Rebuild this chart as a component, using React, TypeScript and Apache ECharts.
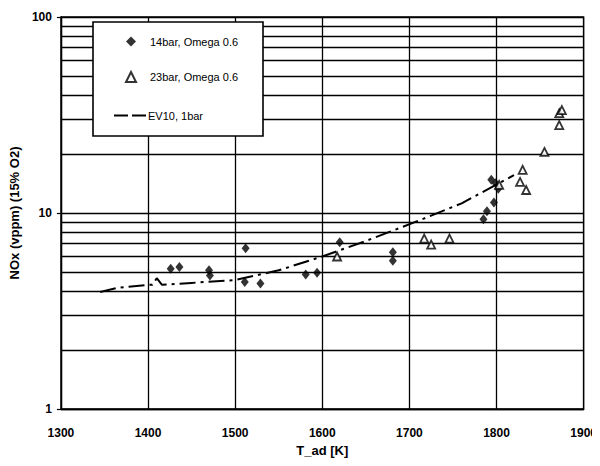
import React, { useEffect, useRef } from "react";
import * as echarts from "echarts";

const xTicks = { min: 1300, max: 1900, interval: 100 };
const yRange = { min: 1, max: 100 };
const minorGridValues = [2, 3, 4, 5, 6, 7, 8, 9, 20, 30, 40, 50, 60, 70, 80, 90];

const series14bar: [number, number][] = [
  [1426, 5.2], [1436, 5.3], [1470, 5.1], [1471, 4.8], [1512, 6.6], [1511, 4.45],
  [1529, 4.37], [1581, 4.85], [1594, 4.95], [1620, 7.1], [1681, 6.3], [1681, 5.7],
  [1785, 9.3], [1789, 10.2], [1797, 11.3], [1794, 14.8], [1799, 14.2], [1802, 13.3],
];

const series23bar: [number, number][] = [
  [1617, 6.0], [1717, 7.4], [1725, 6.9], [1746, 7.4], [1803, 13.9], [1827, 14.4],
  [1830, 16.6], [1834, 13.1], [1855, 20.5], [1872, 28.1], [1872, 32.3], [1875, 33.5],
];

const seriesEV10: [number, number][] = [
  [1345, 3.95], [1365, 4.15], [1400, 4.3], [1405, 4.3], [1410, 4.65], [1416, 4.3],
  [1450, 4.4], [1500, 4.55], [1550, 5.1], [1600, 6.0], [1650, 7.2], [1704, 8.9],
  [1760, 11.2], [1820, 15.6],
];

const names = ["14bar, Omega 0.6", "23bar, Omega 0.6", "EV10, 1bar"];
const xTitle = "T_ad [K]";
const yTitle = "NOx (vppm) (15% O2)";

const FONT = "Liberation Sans, Arial, sans-serif";

export default function App() {
  const ref = useRef<HTMLDivElement>(null);
  useEffect(() => {
    if (!ref.current) return;
    const chart = echarts.init(ref.current, null, { renderer: "svg" });
    const gridLine = { color: "#000", width: 1.3, type: "solid" as const };
    const legendText = { fontFamily: FONT, fontSize: 11, color: "#000" };
    const dashDot = [16, 5, 3, 5];
    chart.setOption({
      animation: false,
      backgroundColor: "#fff",
      textStyle: { fontFamily: FONT, color: "#000" },
      grid: {
        left: 58, right: 15, top: 17, bottom: 57,
        show: true, borderColor: "#000", borderWidth: 1.3, backgroundColor: "transparent",
      },
      graphic: [
        {
          type: "rect",
          z: 100,
          shape: { x: 93, y: 22, width: 170, height: 114 },
          style: { fill: "#fff", stroke: "#000", lineWidth: 1.6 },
        },
      ],
      legend: [
        {
          orient: "vertical",
          left: 125,
          top: 36,
          padding: 0,
          itemGap: 24,
          itemWidth: 10,
          itemHeight: 10,
          z: 200,
          data: [names[0], names[1]],
          textStyle: { ...legendText, padding: [0, 0, 0, 9] },
        },
        {
          orient: "vertical",
          left: 113,
          top: 110,
          padding: 0,
          itemWidth: 33,
          itemHeight: 10,
          z: 200,
          data: [{ name: names[2], icon: "inherit" }],
          itemStyle: { color: "transparent", borderColor: "transparent", borderWidth: 0, opacity: 0 },
          lineStyle: { color: "#000", width: 2, type: [14, 4], opacity: 1 },
          textStyle: { ...legendText, padding: [0, 0, 0, -4] },
        },
      ],
      xAxis: {
        type: "value",
        min: xTicks.min,
        max: xTicks.max,
        interval: xTicks.interval,
        name: xTitle,
        nameLocation: "middle",
        nameGap: 33,
        nameTextStyle: { fontFamily: FONT, fontSize: 13, fontWeight: "bold", color: "#000" },
        axisLine: { show: true, lineStyle: { color: "#000", width: 1.3 } },
        axisTick: { show: false },
        axisLabel: {
          margin: 18, fontFamily: FONT, fontSize: 12, fontWeight: "bold", color: "#000",
          formatter: (v: number) => String(v),
        },
        splitLine: { show: true, lineStyle: gridLine },
      },
      yAxis: {
        type: "log",
        logBase: 10,
        min: yRange.min,
        max: yRange.max,
        name: yTitle,
        nameLocation: "middle",
        nameGap: 31,
        nameTextStyle: { fontFamily: FONT, fontSize: 13, fontWeight: "bold", color: "#000" },
        axisLine: { show: true, lineStyle: { color: "#000", width: 1.3 } },
        axisTick: { show: true, inside: false, length: 4, lineStyle: { color: "#000", width: 1.2 } },
        axisLabel: {
          margin: 9, fontFamily: FONT, fontSize: 12, fontWeight: "bold", color: "#000",
          formatter: (v: number) => String(v),
        },
        splitLine: { show: true, lineStyle: gridLine },
      },
      series: [
        {
          name: names[0],
          type: "scatter",
          symbol: "diamond",
          symbolSize: [8, 10],
          itemStyle: { color: "#000" },
          data: series14bar,
          z: 5,
        },
        {
          name: names[1],
          type: "scatter",
          symbol: "triangle",
          symbolSize: [8, 8],
          itemStyle: { color: "#fff", borderColor: "#000", borderWidth: 1.8 },
          data: series23bar,
          z: 5,
        },
        {
          name: names[2],
          type: "line",
          symbol: "none",
          lineStyle: { color: "#000", width: 2, type: dashDot },
          itemStyle: { color: "#000" },
          data: seriesEV10,
          z: 4,
          markLine: {
            silent: true,
            symbol: ["none", "none"],
            label: { show: false },
            lineStyle: { color: "#000", width: 1.3, type: "solid" },
            data: minorGridValues.map((v) => ({ yAxis: v })),
            z: 1,
          },
        },
      ],
    });
    return () => chart.dispose();
  }, []);
  return <div ref={ref} style={{ width: 600, height: 466, margin: -8 }} />;
}
